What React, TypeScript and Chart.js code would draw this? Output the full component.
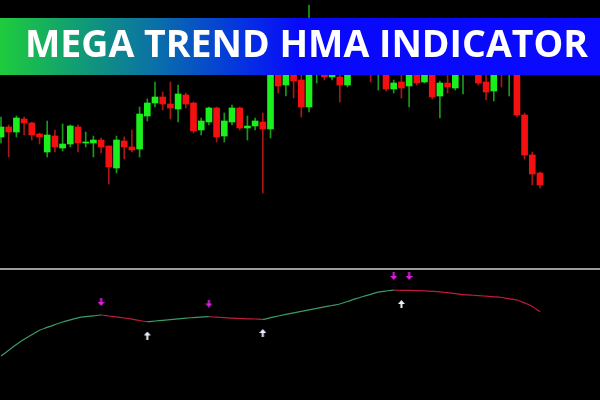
import React, { useEffect, useRef } from "react";
import { Chart, registerables } from "chart.js";
Chart.register(...registerables);

// Candles (price units)
const opens = [133,143,138,151,147,136,118,134,122,126,143,127,127,130,124,102,129,123,121,154,167,173,166,161,175,167,140,148,162,134,148,162,142,144,148,141,238,185,232,190,163,200,215,193,193,185,205,212,210,198,210,181,188,184,200,188,200,174,187,182,198,205,210,188,179,206,199,206,155,115,97];
const highs = [153,145,154,153,148,137,149,140,146,145,145,138,134,132,124,134,133,140,163,171,188,178,188,185,177,168,152,163,163,157,165,163,154,152,157,236,244,240,238,205,265,218,222,212,200,212,220,222,218,215,215,190,198,208,205,206,205,189,198,204,212,215,214,198,210,212,212,210,157,118,98];
const lows = [127,113,133,135,130,126,113,118,119,123,118,123,113,117,86,97,111,118,113,149,163,160,151,148,162,137,135,145,128,128,145,140,130,140,77,132,177,174,172,153,158,187,190,190,168,183,198,200,188,180,179,177,172,163,185,187,171,152,177,180,176,200,185,170,169,183,174,153,111,85,82];
const closes = [143,138,152,147,135,133,135,123,126,144,127,128,130,123,103,130,123,120,156,167,173,166,162,176,166,139,149,162,133,149,162,142,144,149,141,230,184,230,189,163,235,210,193,205,185,205,212,205,200,208,181,187,182,200,187,200,173,187,183,198,205,210,187,178,205,200,206,155,115,96,85];

// Indicator line (one value per candle)
const hma = [44.0,49.8,55.6,60.7,65.2,69.7,72.6,75.4,78.0,80.1,82.2,83.4,84.2,85.0,84.0,83.1,82.0,80.8,79.5,78.3,79.0,79.6,80.3,81.1,81.9,82.4,82.9,83.3,82.8,82.3,81.8,81.5,81.2,81.0,80.7,82.3,84.0,85.6,87.1,88.6,90.1,91.6,93.1,94.5,96.0,98.5,101.1,103.5,105.7,107.8,109.0,109.8,109.7,109.6,109.4,109.1,108.7,108.2,107.3,106.3,105.4,104.9,104.4,103.8,103.2,102.5,101.2,100.0,97.1,93.5,88.2];

// Signal arrows
const sellIdx = [13, 27, 51, 53];
const sellVal = [98, 96.5, 124, 124];
const buyIdx = [19, 34, 52];
const buyVal = [64.5, 67, 96];

const TITLE = "MEGA TREND HMA INDICATOR";

const X_MIN = -0.13;
const X_MAX = X_MIN + 600 / 7.7;

function arrowImage(up: boolean, color: string) {
  const c = document.createElement("canvas");
  c.width = 7;
  c.height = 8;
  const g = c.getContext("2d")!;
  g.fillStyle = color;
  g.beginPath();
  if (up) {
    g.moveTo(3.5, 0);
    g.lineTo(7, 4);
    g.lineTo(0, 4);
    g.closePath();
    g.fill();
    g.fillRect(2.5, 4, 2, 4);
  } else {
    g.fillRect(2.5, 0, 2, 4);
    g.moveTo(0, 4);
    g.lineTo(7, 4);
    g.lineTo(3.5, 8);
    g.closePath();
    g.fill();
  }
  return c;
}

const hiddenX = () => ({ type: "linear" as const, min: X_MIN, max: X_MAX, display: false, offset: false });

export default function App() {
  const topRef = useRef<HTMLCanvasElement>(null);
  const botRef = useRef<HTMLCanvasElement>(null);
  const titleRef = useRef<HTMLSpanElement>(null);

  useEffect(() => {
    const t = titleRef.current;
    if (t) {
      t.style.transform = "none";
      const w = t.getBoundingClientRect().width;
      if (w > 0) t.style.transform = `scaleX(${563 / w})`;
    }

    const up = (i: number) => closes[i] >= opens[i];
    const top = new Chart(topRef.current!, {
      type: "bar",
      data: {
        datasets: [
          {
            label: "body",
            data: opens.map((o, i) => ({ x: i, y: [o, closes[i]] })) as any,
            backgroundColor: opens.map((_, i) => (up(i) ? "#1cf01c" : "#f41010")),
            barThickness: 6,
            borderWidth: 0,
            grouped: false,
            order: 0,
          },
          {
            label: "wick",
            data: opens.map((_, i) => ({ x: i, y: [lows[i], highs[i]] })) as any,
            backgroundColor: opens.map((_, i) => (up(i) ? "#1a9a1a" : "#a81818")),
            barThickness: 1,
            borderWidth: 0,
            grouped: false,
            order: 1,
          },
        ],
      },
      options: {
        animation: false,
        responsive: false,
        maintainAspectRatio: false,
        layout: { padding: 0, autoPadding: false },
        plugins: { legend: { display: false }, tooltip: { enabled: false }, title: { display: false } },
        scales: {
          x: hiddenX() as any,
          y: { min: 2, max: 270, display: false },
        },
      },
    });

    const sellImg = arrowImage(false, "#e020e0");
    const buyImg = arrowImage(true, "#eef0ff");
    const bot = new Chart(botRef.current!, {
      type: "line",
      data: {
        datasets: [
          {
            label: "HMA",
            data: hma.map((v, i) => ({ x: i, y: v })),
            borderWidth: 1.2,
            pointRadius: 0,
            cubicInterpolationMode: "monotone",
            borderColor: "#3a9a68",
            segment: {
              borderColor: (ctx: any) => (ctx.p1.parsed.y >= ctx.p0.parsed.y ? "#3a9a68" : "#c01c3c"),
            },
          },
          {
            label: "sell",
            data: sellIdx.map((x, k) => ({ x, y: sellVal[k] })),
            showLine: false,
            pointStyle: sellImg as any,
            pointRadius: 4,
          },
          {
            label: "buy",
            data: buyIdx.map((x, k) => ({ x, y: buyVal[k] })),
            showLine: false,
            pointStyle: buyImg as any,
            pointRadius: 4,
          },
        ],
      },
      options: {
        animation: false,
        responsive: false,
        maintainAspectRatio: false,
        layout: { padding: 0, autoPadding: false },
        plugins: { legend: { display: false }, tooltip: { enabled: false } },
        scales: {
          x: hiddenX() as any,
          y: { min: 0, max: 130, display: false },
        },
      },
    });
    return () => {
      top.destroy();
      bot.destroy();
    };
  }, []);

  return (
    <div style={{ position: "fixed", left: 0, top: 0, width: 600, height: 400, background: "#000", overflow: "hidden" }}>
      <canvas ref={topRef} width={600} height={268} style={{ position: "absolute", left: 0, top: 0, width: 600, height: 268 }} />
      <div style={{ position: "absolute", left: 0, top: 268, width: 600, height: 2, background: "#9c9c9c" }} />
      <canvas ref={botRef} width={600} height={130} style={{ position: "absolute", left: 0, top: 270, width: 600, height: 130 }} />
      <div
        style={{
          position: "absolute",
          left: 0,
          top: 18,
          width: 600,
          height: 57,
          background: "linear-gradient(90deg, #1ecc3c 0%, #12a070 12%, #0a70a8 26%, #0434e0 40%, #0808fa 50%, #0a0aff 100%)",
        }}
      >
        <span
          ref={titleRef}
          style={{
            position: "absolute",
            left: 25,
            top: 0,
            fontFamily: "'Open Sans', sans-serif",
            fontWeight: 700,
            fontSize: 38,
            lineHeight: "48px",
            color: "#fff",
            whiteSpace: "nowrap",
            transformOrigin: "0 50%",
            display: "inline-block",
          }}
        >
          {TITLE}
        </span>
      </div>
    </div>
  );
}
